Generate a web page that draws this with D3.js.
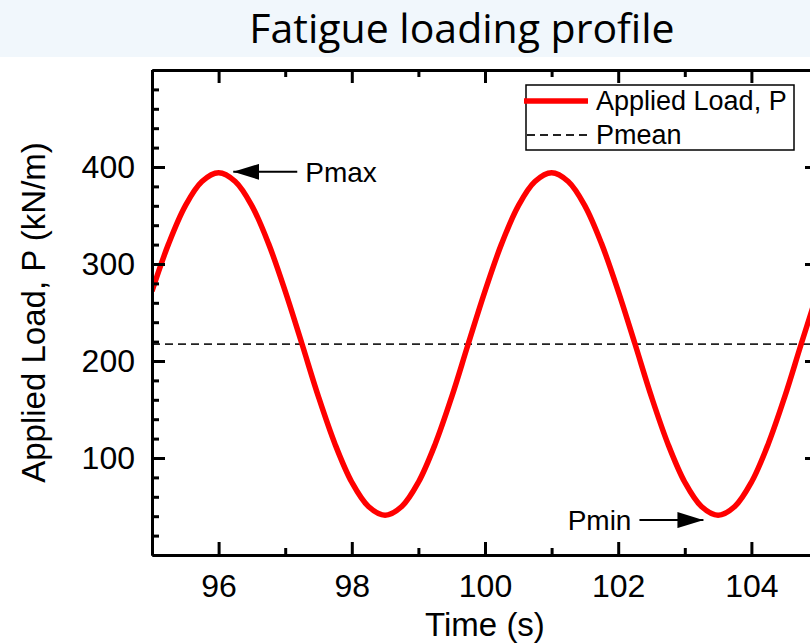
<!DOCTYPE html>
<html>
<head>
<meta charset="utf-8">
<script src="https://cdn.jsdelivr.net/npm/d3@7"></script>
<style>
  body { margin: 0; background: #fff; }
  .axis text { font-family: 'Liberation Sans', Arial, sans-serif; font-size: 32px; fill: #000; }
  .axis path, .axis line { stroke: #000; stroke-width: 3; }
</style>
</head>
<body>
<script>
(function () {
  'use strict'

  // Data (time in s, load in kN/m)
  var times = [95, 95.25, 95.5, 95.75, 96, 96.25, 96.5, 96.75, 97, 97.25,
    97.5, 97.75, 98, 98.25, 98.5, 98.75, 99, 99.25, 99.5, 99.75,
    100, 100.25, 100.5, 100.75, 101, 101.25, 101.5, 101.75, 102, 102.25,
    102.5, 102.75, 103, 103.25, 103.5, 103.75, 104, 104.25, 104.5, 104.75, 105]
  var loads = [272, 321, 360, 385, 394, 385, 360, 321, 272, 218,
    163, 114, 75, 50, 41, 50, 75, 114, 163, 218,
    272, 321, 360, 385, 394, 385, 360, 321, 272, 218,
    163, 114, 75, 50, 41, 50, 75, 114, 163, 218, 272]
  var pMean = 217.5
  var xTicks = [96, 98, 100, 102, 104]
  var yTicks = [100, 200, 300, 400]
  var legendLabels = ['Applied Load, P', 'Pmean']
  var annoLabels = ['Pmax', 'Pmin']
  var annoTimes = [96.22, 103.28]
  var annoLoads = [395, 36]

  var dim = { w: 810, h: 644 }
  var plot = { left: 152, right: 818, top: 70, bottom: 555 }

  var svg = d3.select('body').append('svg')
    .attr('width', dim.w)
    .attr('height', dim.h)

  // title banner
  svg.append('rect')
    .attr('x', 0).attr('y', 0)
    .attr('width', dim.w).attr('height', 57)
    .attr('fill', '#f1f7fc')
  svg.append('text')
    .attr('x', 462).attr('y', 43)
    .attr('text-anchor', 'middle')
    .style('font-family', "'Open Sans', sans-serif")
    .style('font-size', '41px')
    .attr('fill', '#000')
    .text('Fatigue loading profile')

  var x = d3.scaleLinear().domain([95, 105]).range([plot.left, plot.right])
  var y = d3.scaleLinear().domain([0, 500]).range([plot.bottom, plot.top])

  var xMinor = d3.range(95, 105.5, 1).filter(function (d) { return xTicks.indexOf(d) < 0 })
  var yMinor = d3.range(0, 501, 20).filter(function (d) { return d % 100 !== 0 })

  var defs = svg.append('defs')
  defs.append('clipPath').attr('id', 'clip')
    .append('rect')
    .attr('x', plot.left).attr('y', plot.top)
    .attr('width', plot.right - plot.left)
    .attr('height', plot.bottom - plot.top)
  defs.append('marker')
    .attr('id', 'head')
    .attr('viewBox', '0 0 26 16')
    .attr('refX', 26).attr('refY', 8)
    .attr('markerUnits', 'userSpaceOnUse')
    .attr('markerWidth', 26).attr('markerHeight', 16)
    .attr('orient', 'auto')
    .append('path')
    .attr('d', 'M0,0L26,8L0,16Z')
    .attr('fill', '#000')

  // mean line
  svg.append('line')
    .attr('x1', plot.left).attr('x2', plot.right)
    .attr('y1', y(pMean)).attr('y2', y(pMean))
    .attr('stroke', '#222')
    .attr('stroke-width', 1.8)
    .attr('stroke-dasharray', '8,5')

  // load curve
  var line = d3.line()
    .x(function (d, i) { return x(times[i]) })
    .y(function (d) { return y(d) })
    .curve(d3.curveCatmullRom)
  svg.append('path')
    .attr('clip-path', 'url(#clip)')
    .attr('d', line(loads))
    .attr('fill', 'none')
    .attr('stroke', '#ff0000')
    .attr('stroke-width', 5.5)

  // axes with inward ticks
  function drawAxis (axisFn, scale, values, size, tr, labels) {
    var a = axisFn(scale).tickValues(values).tickSizeInner(-size).tickSizeOuter(0)
    if (!labels) a.tickFormat('')
    var g = svg.append('g').attr('class', 'axis').attr('transform', tr).call(a)
    return { axis: a, g: g }
  }

  var bottomTr = 'translate(0,' + plot.bottom + ')'
  var leftTr = 'translate(' + plot.left + ',0)'
  var topTr = 'translate(0,' + plot.top + ')'
  var rightTr = 'translate(' + plot.right + ',0)'

  drawAxis(d3.axisBottom, x, xMinor, 7, bottomTr, false)
  var xb = drawAxis(d3.axisBottom, x, xTicks, 13, bottomTr, true)
  xb.g.call(xb.axis.tickPadding(19))
  drawAxis(d3.axisLeft, y, yMinor, 7, leftTr, false)
  var yl = drawAxis(d3.axisLeft, y, yTicks, 13, leftTr, true)
  yl.g.call(yl.axis.tickPadding(17))
  drawAxis(d3.axisTop, x, xMinor, 7, topTr, false)
  drawAxis(d3.axisTop, x, xTicks, 13, topTr, false)
  drawAxis(d3.axisRight, y, yMinor, 7, rightTr, false)
  drawAxis(d3.axisRight, y, yTicks, 13, rightTr, false)

  // axis titles
  svg.append('text')
    .attr('x', (plot.left + plot.right) / 2).attr('y', 636)
    .attr('text-anchor', 'middle')
    .style('font-family', "'Liberation Sans', Arial, sans-serif")
    .style('font-size', '33px')
    .text('Time (s)')
  svg.append('text')
    .attr('transform', 'translate(45,' + (plot.top + plot.bottom) / 2 + ') rotate(-90)')
    .attr('text-anchor', 'middle')
    .style('font-family', "'Liberation Sans', Arial, sans-serif")
    .style('font-size', '33px')
    .text('Applied Load, P (kN/m)')

  // annotations
  annoLabels.forEach(function (label, i) {
    var tx = x(annoTimes[i])
    var ty = y(annoLoads[i])
    var dir = i === 0 ? 1 : -1
    var tail = tx + dir * 64
    svg.append('line')
      .attr('x1', tail).attr('y1', ty)
      .attr('x2', tx).attr('y2', ty)
      .attr('stroke', '#000')
      .attr('stroke-width', 2)
      .attr('marker-end', 'url(#head)')
    svg.append('text')
      .attr('x', tail + dir * 8).attr('y', ty + 10)
      .attr('text-anchor', i === 0 ? 'start' : 'end')
      .style('font-family', "'Liberation Sans', Arial, sans-serif")
      .style('font-size', '28px')
      .text(label)
  })

  // legend
  var lg = svg.append('g').attr('transform', 'translate(526,85)')
  lg.append('rect')
    .attr('width', 268).attr('height', 65)
    .attr('fill', '#fff')
    .attr('stroke', '#000')
    .attr('stroke-width', 1.5)
  legendLabels.forEach(function (label, i) {
    var ly = 16 + i * 34
    lg.append('line')
      .attr('x1', i === 0 ? -2 : 1).attr('x2', 62)
      .attr('y1', ly).attr('y2', ly)
      .attr('stroke', i === 0 ? '#ff0000' : '#222')
      .attr('stroke-width', i === 0 ? 5.5 : 1.8)
      .attr('stroke-dasharray', i === 0 ? null : '8,5')
    lg.append('text')
      .attr('x', 70).attr('y', ly + 9)
      .style('font-family', "'Liberation Sans', Arial, sans-serif")
      .style('font-size', '27px')
      .text(label)
  })
}())
</script>
</body>
</html>
